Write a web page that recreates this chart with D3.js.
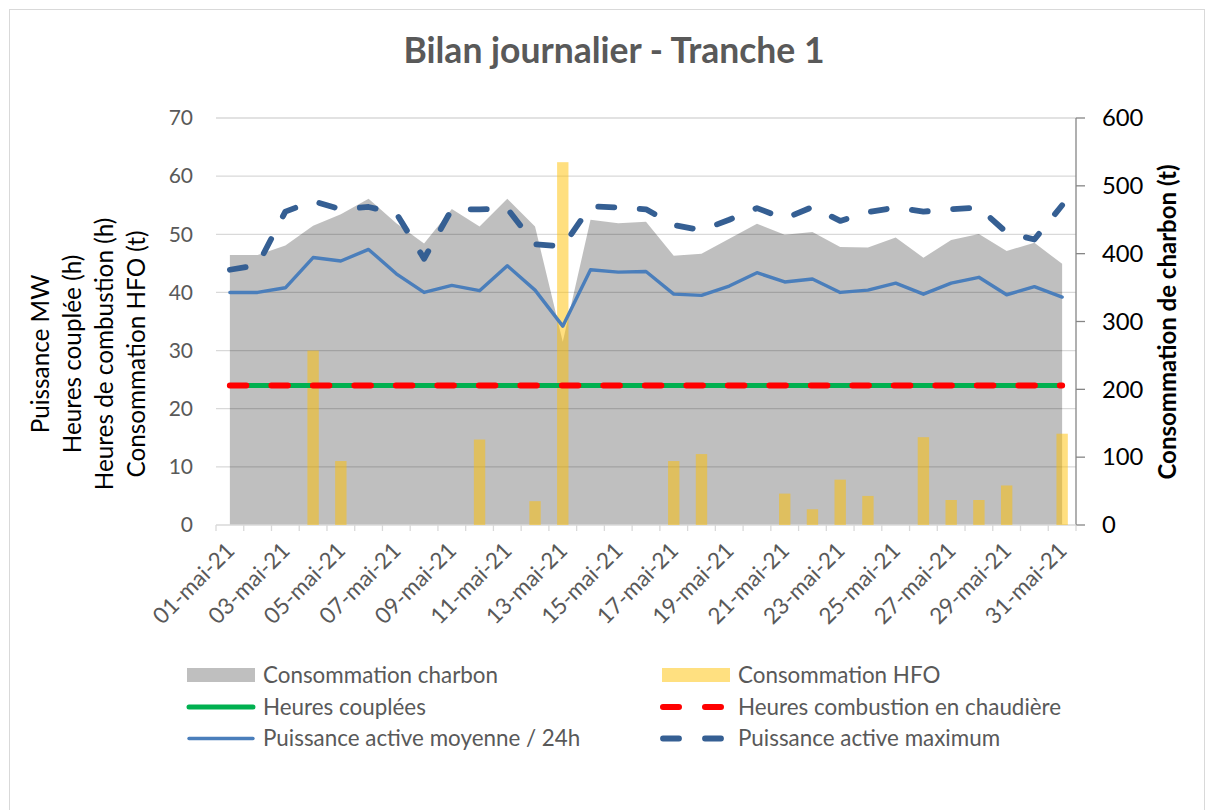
<!DOCTYPE html>
<html>
<head>
<meta charset="utf-8">
<script src="https://cdn.jsdelivr.net/npm/d3@7"></script>
<style>
  body { margin: 0; background: #fff; }
  svg { font-family: Lato, "Open Sans", sans-serif; }
</style>
</head>
<body>
<svg width="1214" height="810"></svg>
<script>
// Data
var days = ["01-mai-21","02-mai-21","03-mai-21","04-mai-21","05-mai-21","06-mai-21","07-mai-21","08-mai-21",
            "09-mai-21","10-mai-21","11-mai-21","12-mai-21","13-mai-21","14-mai-21","15-mai-21","16-mai-21",
            "17-mai-21","18-mai-21","19-mai-21","20-mai-21","21-mai-21","22-mai-21","23-mai-21","24-mai-21",
            "25-mai-21","26-mai-21","27-mai-21","28-mai-21","29-mai-21","30-mai-21","31-mai-21"];
var consoCharbon = [398,398,412,441,458,481,445,415,466,440,481,440,270,450,445,447,
                    397,400,422,444,428,432,410,409,424,394,420,429,404,416,385];
var consoHFO = [0,0,0,30,11,0,0,0,0,14.7,0,4.1,62.4,0,0,0,
                11,12.2,0,0,5.4,2.7,7.8,5,0,15.1,4.3,4.3,6.8,0,15.7];
var heuresCouplees = [24,24,24,24,24,24,24,24,24,24,24,24,24,24,24,24,
                      24,24,24,24,24,24,24,24,24,24,24,24,24,24,24];
var heuresCombustion = [24,24,24,24,24,24,24,24,24,24,24,24,24,24,24,24,
                        24,24,24,24,24,24,24,24,24,24,24,24,24,24,24];
var puissanceMoy = [40.0,40.0,40.8,46.0,45.4,47.4,43.2,40.0,41.2,40.3,44.6,40.4,34.2,43.9,43.5,43.6,
                    39.7,39.5,41.1,43.4,41.8,42.3,40.0,40.4,41.6,39.7,41.6,42.6,39.6,41.0,39.2];
var puissanceMax = [43.9,44.7,53.9,55.7,54.3,54.7,53.6,45.8,54.3,54.3,54.4,48.3,47.9,54.8,54.6,54.3,
                    51.6,50.7,52.5,54.5,52.7,54.7,52.3,53.8,54.6,53.9,54.3,54.6,50.3,49.1,55.0];
var leftTicks = [0,10,20,30,40,50,60,70];
var rightTicks = [0,100,200,300,400,500,600];
var leftTitle = ["Puissance MW","Heures couplée (h)","Heures de combustion (h)","Consommation HFO (t)"];

var svg = d3.select("svg"),
    plot = {left: 216, right: 1076, top: 118, bottom: 525};

// chart border
svg.append("rect")
    .attr("x", 9.5).attr("y", 9.5)
    .attr("width", 1195).attr("height", 820)
    .attr("fill", "none")
    .attr("stroke", "#d9d9d9");

var x = d3.scaleBand().domain(days).range([plot.left, plot.right]).padding(0);
var yL = d3.scaleLinear().domain([0, 70]).range([plot.bottom, plot.top]);
var yR = d3.scaleLinear().domain([0, 600]).range([plot.bottom, plot.top]);
var cx = function(i) { return x(days[i]) + x.bandwidth() / 2; };

// Title
svg.append("text")
    .attr("x", 614).attr("y", 63)
    .attr("text-anchor", "middle")
    .attr("font-size", 35.5).attr("font-weight", "bold")
    .attr("fill", "#595959")
    .text("Bilan journalier - Tranche 1");

// Gridlines
svg.append("g").selectAll("line").data(leftTicks.slice(1)).join("line")
    .attr("x1", plot.left).attr("x2", plot.right)
    .attr("y1", function(d) { return yL(d); }).attr("y2", function(d) { return yL(d); })
    .attr("stroke", "#d9d9d9").attr("stroke-width", 1.3);

// Left tick labels
svg.append("g").selectAll("text").data(leftTicks).join("text")
    .attr("x", 193).attr("y", function(d) { return yL(d); })
    .attr("dy", "0.35em")
    .attr("text-anchor", "end")
    .attr("font-size", 21).attr("fill", "#595959")
    .text(function(d) { return d; });

// Right axis
var gR = svg.append("g");
gR.append("line")
    .attr("x1", plot.right).attr("x2", plot.right)
    .attr("y1", plot.top).attr("y2", plot.bottom + 0.5)
    .attr("stroke", "#868686").attr("stroke-width", 1.3);
gR.selectAll(".tk").data(rightTicks).join("line")
    .attr("x1", plot.right).attr("x2", plot.right + 9)
    .attr("y1", function(d) { return yR(d); }).attr("y2", function(d) { return yR(d); })
    .attr("stroke", "#868686").attr("stroke-width", 1.3);
gR.selectAll("text").data(rightTicks).join("text")
    .attr("x", 1102).attr("y", function(d) { return yR(d); })
    .attr("dy", "0.35em")
    .attr("font-size", 23.8).attr("fill", "#000")
    .text(function(d) { return d; });

// Axis titles
svg.append("g").selectAll("text").data(leftTitle).join("text")
    .attr("transform", function(d, i) { return "translate(" + (40 + i * 32.2) + ",354) rotate(-90)"; })
    .attr("dy", "0.35em")
    .attr("text-anchor", "middle")
    .attr("font-size", 24.3).attr("fill", "#000")
    .text(function(d) { return d; });

svg.append("text")
    .attr("transform", "translate(1168,322) rotate(-90)")
    .attr("dy", "0.35em")
    .attr("text-anchor", "middle")
    .attr("font-size", 24).attr("font-weight", "bold").attr("fill", "#000")
    .text("Consommation de charbon (t)");

// Area: coal consumption (right axis)
var area = d3.area()
    .x(function(d, i) { return cx(i); })
    .y0(yR(0))
    .y1(function(d) { return yR(d); });
svg.append("path")
    .datum(consoCharbon)
    .attr("d", area)
    .attr("fill", "#000").attr("fill-opacity", 0.25);

// X axis
var gX = svg.append("g");
gX.append("line")
    .attr("x1", plot.left).attr("x2", plot.right)
    .attr("y1", plot.bottom).attr("y2", plot.bottom)
    .attr("stroke", "#d9d9d9").attr("stroke-width", 1.3);
gX.selectAll(".tk").data(d3.range(days.length + 1)).join("line")
    .attr("x1", function(i) { return plot.left + i * x.bandwidth(); })
    .attr("x2", function(i) { return plot.left + i * x.bandwidth(); })
    .attr("y1", plot.bottom).attr("y2", plot.bottom + 6)
    .attr("stroke", "#d9d9d9").attr("stroke-width", 1.3);
gX.selectAll("text").data(days.filter(function(d, i) { return i % 2 === 0; })).join("text")
    .attr("transform", function(d) {
        return "translate(" + (x(d) + x.bandwidth() / 2 + 6) + "," + (plot.bottom + 27) + ") rotate(-45)";
    })
    .attr("text-anchor", "end")
    .attr("font-size", 22.5).attr("fill", "#595959")
    .text(function(d) { return d; });

// Bars: HFO (left axis)
var barW = x.bandwidth() * 0.41;
svg.append("g").selectAll("rect").data(consoHFO).join("rect")
    .attr("x", function(d, i) { return cx(i) - barW / 2; })
    .attr("width", barW)
    .attr("y", function(d) { return yL(d); })
    .attr("height", function(d) { return yL(0) - yL(d); })
    .attr("fill", "#ffc000").attr("fill-opacity", 0.5);

var line = d3.line()
    .x(function(d, i) { return cx(i); })
    .y(function(d) { return yL(d); });

function drawLine(data, color, width, dash) {
    svg.append("path")
        .datum(data)
        .attr("d", line)
        .attr("fill", "none")
        .attr("stroke", color)
        .attr("stroke-width", width)
        .attr("stroke-linecap", "round")
        .attr("stroke-linejoin", "round")
        .attr("stroke-dasharray", dash);
}

drawLine(heuresCouplees, "#00b050", 5, null);
drawLine(heuresCombustion, "#ff0000", 6, "16.5,25");
drawLine(puissanceMoy, "#4a7ebb", 3.4, null);
drawLine(puissanceMax, "#355f93", 5.8, "16,25.5");

// Legend
var legend = [
    {label: "Consommation charbon", type: "rect", color: "#bfbfbf", col: 0, row: 0},
    {label: "Consommation HFO", type: "rect", color: "#ffe080", col: 1, row: 0},
    {label: "Heures couplées", type: "line", color: "#00b050", w: 5, col: 0, row: 1},
    {label: "Heures combustion en chaudière", type: "line", color: "#ff0000", w: 6, dash: "16,26", col: 1, row: 1},
    {label: "Puissance active moyenne / 24h", type: "line", color: "#4a7ebb", w: 3.4, col: 0, row: 2},
    {label: "Puissance active maximum", type: "line", color: "#355f93", w: 5.8, dash: "16,26", col: 1, row: 2}
];
var colX = [187, 662], rowY = [675, 707, 738.5];

var lg = svg.append("g").selectAll("g").data(legend).join("g")
    .attr("transform", function(d) { return "translate(" + colX[d.col] + "," + rowY[d.row] + ")"; });
lg.filter(function(d) { return d.type === "rect"; }).append("rect")
    .attr("x", 0).attr("y", -7).attr("width", 68).attr("height", 14)
    .attr("fill", function(d) { return d.color; });
lg.filter(function(d) { return d.type === "line"; }).append("line")
    .attr("x1", function(d) { return d.dash ? 1 : 2; }).attr("x2", 66)
    .attr("stroke", function(d) { return d.color; })
    .attr("stroke-width", function(d) { return d.w; })
    .attr("stroke-linecap", "round")
    .attr("stroke-dasharray", function(d) { return d.dash || null; });
lg.append("text")
    .attr("x", 76).attr("dy", "0.35em")
    .attr("font-size", 22.4).attr("fill", "#595959")
    .text(function(d) { return d.label; });
</script>
</body>
</html>
